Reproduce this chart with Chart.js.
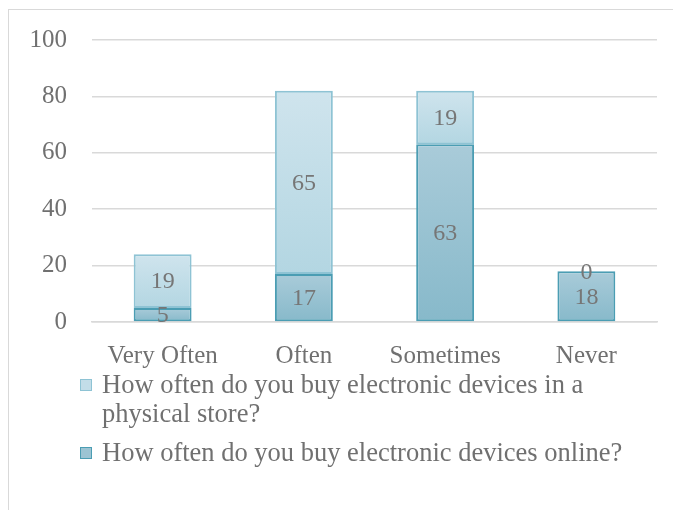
<!DOCTYPE html>
<html>
<head>
<meta charset="utf-8">
<script src="https://cdn.jsdelivr.net/npm/chart.js@4/dist/chart.umd.min.js"></script>
<style>
  body { margin: 0; background: #fff; width: 673px; height: 510px; overflow: hidden; }
  #frame { position: absolute; left: 8px; top: 9px; width: 700px; height: 520px; border: 1.5px solid #d9d9d9; }
  #wrap { position: absolute; left: 8px; top: 9px; width: 665px; height: 380px; }
  #legend { position: absolute; left: 80px; top: 370px; width: 575px; font-family: "Liberation Serif", serif; font-size: 26.5px; color: #707070; }
  .item { position: relative; padding-left: 22px; line-height: 29px; margin-bottom: 10px; }
  .box { position: absolute; left: 0; top: 9px; width: 10px; height: 10px; border: 1.5px solid; }
</style>
</head>
<body>
<div id="frame"></div>
<div id="wrap"><canvas id="chart"></canvas></div>
<div id="legend"></div>
<script>
const categories = ['Very Often', 'Often', 'Sometimes', 'Never'];
const onlineValues = [5, 17, 63, 18];
const storeValues = [19, 65, 19, 0];
const yTicks = [0, 20, 40, 60, 80, 100];

const storeLabel = 'How often do you buy electronic devices in a physical store?';
const onlineLabel = 'How often do you buy electronic devices online?';

// gradient per bar, light on top
function barGradient(context, topCol, botCol, base) {
    const chart = context.chart;
    if (!chart.chartArea || !chart.scales.y) return botCol;
    const i = context.dataIndex;
    const y = chart.scales.y;
    const b = base ? base[i] : 0;
    const v = context.dataset.data[i];
    const y0 = y.getPixelForValue(b);
    const y1 = y.getPixelForValue(b + v);
    if (!isFinite(y0) || !isFinite(y1) || y0 === y1) return botCol;
    const g = chart.ctx.createLinearGradient(0, y1, 0, y0);
    g.addColorStop(0, topCol);
    g.addColorStop(1, botCol);
    return g;
}

// value labels in middle of each bar
const barLabels = {
    id: 'barLabels',
    afterDatasetsDraw(chart) {
        const ctx = chart.ctx;
        ctx.save();
        ctx.font = '24px "Liberation Serif", serif';
        ctx.fillStyle = '#767676';
        ctx.textAlign = 'center';
        ctx.textBaseline = 'middle';
        chart.data.datasets.forEach((ds, di) => {
            chart.getDatasetMeta(di).data.forEach((bar, i) => {
                const mid = (bar.y + bar.base) / 2;
                ctx.fillText(ds.data[i], bar.x, mid + 1);
            });
        });
        ctx.restore();
    }
};

const ctx = document.getElementById('chart').getContext('2d');
const myChart = new Chart(ctx, {
    type: 'bar',
    data: {
        labels: categories,
        datasets: [
            {
                label: onlineLabel,
                data: onlineValues,
                backgroundColor: c => barGradient(c, '#a9cbd9', '#87b9ca', null),
                borderColor: '#4b9db3',
                borderWidth: 2,
                borderSkipped: false,
                legendColor: '#9cc4d3'
            },
            {
                label: storeLabel,
                data: storeValues,
                backgroundColor: c => barGradient(c, '#cfe4ed', '#b3d6e2', onlineValues),
                borderColor: '#8ec3d4',
                borderWidth: 2,
                borderSkipped: false,
                legendColor: '#c3dde8'
            }
        ]
    },
    options: {
        responsive: true,
        maintainAspectRatio: false,
        animation: false,
        layout: { padding: { left: 0, right: 16, top: 31, bottom: 0 } },
        plugins: {
            legend: { display: false },
            tooltip: { enabled: false }
        },
        datasets: { bar: { barPercentage: 0.41, categoryPercentage: 1 } },
        scales: {
            x: {
                stacked: true,
                grid: { display: false },
                border: { display: true, color: '#d9d9d9', width: 1.5 },
                ticks: { color: '#707070', padding: 11, font: { family: '"Liberation Serif", serif', size: 25 } },
                afterFit: axis => { axis.height = 67; }
            },
            y: {
                stacked: true,
                min: 0,
                max: 100,
                afterBuildTicks: axis => { axis.ticks = yTicks.map(v => ({ value: v })); },
                grid: { color: '#d9d9d9', lineWidth: 1.5, drawTicks: false },
                border: { display: false },
                ticks: { color: '#707070', padding: 25, font: { family: '"Liberation Serif", serif', size: 25 } },
                afterFit: axis => { axis.width = 84; axis.paddingTop = 8; axis.paddingBottom = 0; }
            }
        }
    },
    plugins: [barLabels]
});

// legend in html so long label can wrap
const legend = document.getElementById('legend');
[1, 0].forEach(di => {
    const ds = myChart.data.datasets[di];
    const item = document.createElement('div');
    item.className = 'item';
    const box = document.createElement('span');
    box.className = 'box';
    box.style.background = ds.legendColor;
    box.style.borderColor = ds.borderColor;
    item.appendChild(box);
    item.appendChild(document.createTextNode(ds.label));
    legend.appendChild(item);
});
</script>
</body>
</html>
